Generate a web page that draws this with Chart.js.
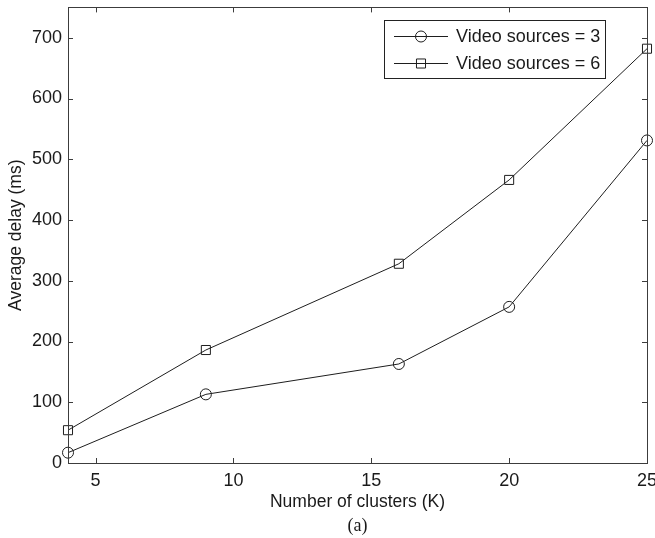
<!DOCTYPE html>
<html><head><meta charset="utf-8">
<script src="https://cdn.jsdelivr.net/npm/chart.js@4/dist/chart.umd.min.js"></script>
<style>html,body{margin:0;padding:0;background:#fff}#wrap{width:655px;height:538px}</style>
</head><body><div id="wrap"><canvas id="c" width="655" height="538"></canvas></div>
<script>
const clusters = [4, 9, 16, 20, 25];
const delaySources3 = [17, 113, 163, 257, 531];
const delaySources6 = [54, 186, 328, 466, 682];
const seriesLabels = ['Video sources = 3', 'Video sources = 6'];
const seriesMarkers = ['circle', 'rect'];
const xTickValues = [5, 10, 15, 20, 25];
const yTickValues = [0, 100, 200, 300, 400, 500, 600, 700];
const xTitle = 'Number of clusters (K)';
const yTitle = 'Average delay (ms)';
const caption = '(a)';

const FONT = '"Liberation Sans", Arial, Helvetica, sans-serif';
const LINE = '#1e1e1e';
const AXIS = '#3c3c3c';
const TEXT = '#1a1a1a';

function pts(ys){ return clusters.map((x,i)=>({x:x,y:ys[i]})); }

const framePlugin = {
  id: 'frame',
  afterDraw(chart){
    const ctx = chart.ctx, a = chart.chartArea;
    const xs = chart.scales.x, ys = chart.scales.y;
    ctx.save();
    ctx.strokeStyle = AXIS; ctx.lineWidth = 1;
    ctx.strokeRect(Math.round(a.left)+0.5, Math.round(a.top)+0.5, Math.round(a.right-a.left), Math.round(a.bottom-a.top));
    const tl = 5;
    ctx.beginPath();
    xTickValues.forEach(v=>{
      const px = Math.round(xs.getPixelForValue(v))+0.5;
      ctx.moveTo(px, a.bottom); ctx.lineTo(px, a.bottom-tl);
      ctx.moveTo(px, a.top); ctx.lineTo(px, a.top+tl);
    });
    yTickValues.forEach(v=>{
      const py = Math.round(ys.getPixelForValue(v))+0.5;
      ctx.moveTo(a.left, py); ctx.lineTo(a.left+tl, py);
      ctx.moveTo(a.right, py); ctx.lineTo(a.right-tl, py);
    });
    ctx.stroke();
    ctx.restore();

    // legend
    ctx.save();
    const lx = Math.round(a.right - 263), ly = Math.round(a.top + 13);
    ctx.fillStyle = '#fff';
    ctx.fillRect(lx, ly, 222, 58);
    ctx.strokeStyle = '#222'; ctx.lineWidth = 1;
    ctx.strokeRect(lx+0.5, ly+0.5, 221, 58);
    chart.data.datasets.forEach((ds, i)=>{
      const cy = Math.round(ly + 16 + i*26.5) + 0.5;
      ctx.strokeStyle = ds.borderColor; ctx.lineWidth = 1;
      ctx.beginPath(); ctx.moveTo(lx+10, cy); ctx.lineTo(lx+64, cy); ctx.stroke();
      ctx.fillStyle = 'rgba(0,0,0,0)';
      ctx.strokeStyle = ds.borderColor;
      Chart.helpers.drawPoint(ctx, {pointStyle: ds.pointStyle, radius: ds.pointRadius, borderWidth: 1}, lx+37, cy);
      ctx.fillStyle = TEXT;
      ctx.font = '18px ' + FONT;
      ctx.textBaseline = 'middle'; ctx.textAlign = 'left';
      ctx.fillText(ds.label, lx+72, cy+1);
    });
    // caption
    ctx.fillStyle = TEXT;
    ctx.font = '18px "Liberation Serif", "Times New Roman", serif';
    ctx.textAlign = 'center'; ctx.textBaseline = 'middle';
    ctx.fillText(caption, (a.left+a.right)/2, 526);
    ctx.restore();
  }
};

new Chart(document.getElementById('c'), {
  type: 'line',
  data: {
    datasets: [
      { label: seriesLabels[0], data: pts(delaySources3), borderColor: LINE, backgroundColor: 'transparent',
        borderWidth: 1, pointStyle: seriesMarkers[0], pointRadius: 5.5, pointBorderWidth: 1,
        pointBorderColor: LINE, pointBackgroundColor: 'transparent', clip: false, tension: 0 },
      { label: seriesLabels[1], data: pts(delaySources6), borderColor: LINE, backgroundColor: 'transparent',
        borderWidth: 1, pointStyle: seriesMarkers[1], pointRadius: 6.4, pointBorderWidth: 1,
        pointBorderColor: LINE, pointBackgroundColor: 'transparent', clip: false, tension: 0 }
    ]
  },
  options: {
    responsive: false, animation: false, devicePixelRatio: 1,
    layout: { padding: { top: 6, right: 8, bottom: 0, left: 0 } },
    plugins: { legend: { display: false }, tooltip: { enabled: false } },
    scales: {
      x: {
        type: 'linear', min: 4, max: 25,
        afterBuildTicks: s => { s.ticks = xTickValues.map(v => ({ value: v })); },
        afterFit: s => { s.height = 75; s.paddingLeft = 0; s.paddingRight = 0; },
        grid: { display: false, drawTicks: false },
        border: { display: false },
        ticks: { font: { family: FONT, size: 18 }, color: TEXT, padding: 7, maxRotation: 0, autoSkip: false },
        title: { display: true, text: xTitle, font: { family: FONT, size: 17.5 }, color: TEXT, padding: { top: 0, bottom: 25 } }
      },
      y: {
        type: 'linear', min: 0, max: 750,
        afterBuildTicks: s => { s.ticks = yTickValues.map(v => ({ value: v })); },
        afterFit: s => { s.width = 68; s.paddingTop = 0; s.paddingBottom = 0; },
        grid: { display: false, drawTicks: false },
        border: { display: false },
        ticks: { font: { family: FONT, size: 18 }, color: TEXT, padding: 6, autoSkip: false },
        title: { display: true, text: yTitle, font: { family: FONT, size: 17.5 }, color: TEXT, padding: { top: 5.5, bottom: 0 } }
      }
    }
  },
  plugins: [framePlugin]
});
</script></body></html>
